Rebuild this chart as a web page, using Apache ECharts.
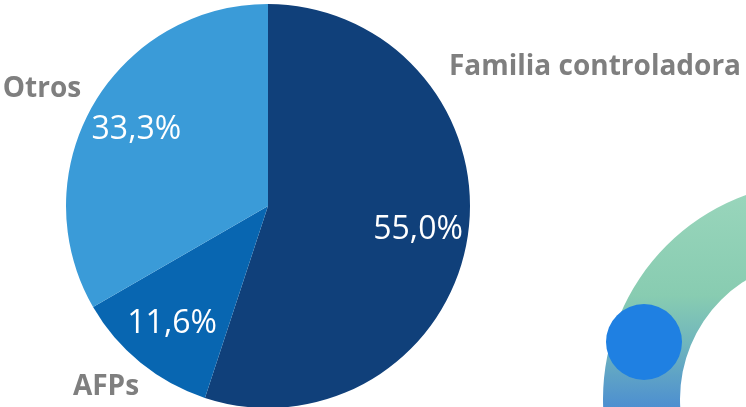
<!DOCTYPE html>
<html><head><meta charset="utf-8">
<script src="https://cdn.jsdelivr.net/npm/echarts@6/dist/echarts.min.js"></script>
<style>html,body{margin:0;padding:0;background:#fff}#c{width:746px;height:407px}</style>
</head><body><div id="c"></div>
<script>
const categories = ["Familia controladora", "AFPs", "Otros"];
const shares = [55.0, 11.6, 33.3];
const sliceColors = ["#10407a", "#0866b1", "#3a9bd8"];
const nameLabelPos = [[595, 67], [106, 387], [42, 89]];

const chart = echarts.init(document.getElementById('c'));
const mainData = categories.map((n, i) => ({ name: n, value: shares[i], itemStyle: { color: sliceColors[i] } }));
const fmt = v => v.toFixed(1).replace('.', ',') + '%';

chart.setOption({
  animation: false,
  graphic: [
    { type: 'ring', z: 0, shape: { cx: 820, cy: 399, r: 217, r0: 140 },
      style: { fill: new echarts.graphic.LinearGradient(0, 185, 0, 407, [
        { offset: 0, color: '#9ad6bc' }, { offset: 0.5, color: '#88ccb1' },
        { offset: 0.72, color: '#6fb5bd' }, { offset: 1, color: '#4d8fd0' }], true) } },
    { type: 'circle', z: 1, shape: { cx: 644, cy: 342, r: 38 }, style: { fill: '#1f80e2' } }
  ],
  series: [
    {
      type: 'pie', center: [268, 206], radius: [0, 202], startAngle: 90, silent: true, z: 5,
      data: mainData,
      label: { show: true, position: 'outside', formatter: '{b}', color: '#7f7f7f',
        fontFamily: 'Open Sans', fontWeight: 'bold', fontSize: 28, overflow: 'none', width: 400 },
      labelLine: { show: false },
      labelLayout: p => ({ x: nameLabelPos[p.dataIndex][0], y: nameLabelPos[p.dataIndex][1], align: 'center', verticalAlign: 'middle' })
    },
    {
      type: 'pie', center: [268, 206], radius: [96, 202], startAngle: 90, silent: true, z: 6,
      data: categories.map((n, i) => ({ name: n, value: shares[i] })),
      itemStyle: { color: 'rgba(0,0,0,0)' },
      label: { show: true, position: 'inside', color: '#ffffff', fontFamily: 'Open Sans', fontSize: 32,
        formatter: p => fmt(p.value) },
      labelLine: { show: false }
    }
  ]
});
</script></body></html>
